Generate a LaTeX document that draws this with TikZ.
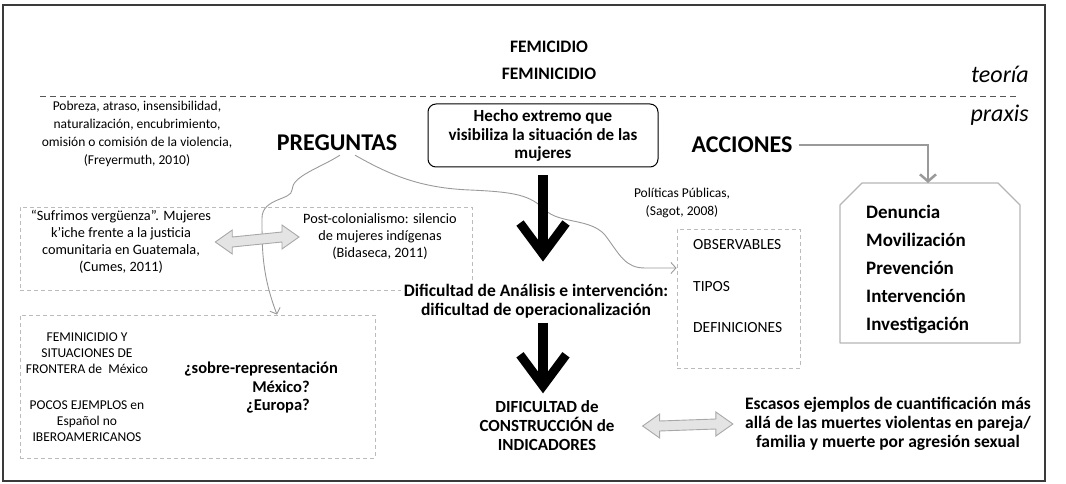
\documentclass[tikz,border=0pt]{standalone}
\usepackage{fontspec}
\setmainfont{Carlito}
\usetikzlibrary{arrows.meta,calc}
\definecolor{framec}{HTML}{3A3A3A}
\definecolor{dashc}{HTML}{BBBBBB}
\definecolor{arrowc}{HTML}{9A9A9A}
\definecolor{blockfill}{HTML}{E4E4E4}
\definecolor{blockline}{HTML}{A8A8A8}
\begin{document}
\begin{tikzpicture}[x=1pt,y=-1pt,
  every node/.style={inner sep=0pt, align=center},
  small/.style={font=\fontsize{13.5}{17.5}\selectfont},
  bsmall/.style={font=\bfseries\fontsize{17.5}{18.5}\selectfont},
  headw/.style={font=\bfseries\fontsize{24}{28}\selectfont},
  titlew/.style={font=\bfseries\fontsize{17.5}{27}\selectfont},
  sidew/.style={font=\itshape\fontsize{24}{28}\selectfont, anchor=east},
  itemw/.style={font=\bfseries\fontsize{19}{28}\selectfont, anchor=west, align=left},
  obsw/.style={font=\fontsize{15.5}{41.5}\selectfont, anchor=west, align=left},
  dbox/.style={draw=dashc, dash pattern=on 4pt off 3pt, line width=0.9pt},
  thinarrow/.style={draw=arrowc, line width=0.9pt, -{Straight Barb[length=5pt,width=11pt]}},
  blockarrow/.style={draw=blockline, fill=blockfill, line width=0.9pt, line join=miter},
  bigshaft/.style={line width=10pt},
  bighead/.style={line width=9pt, line join=miter, miter limit=10},
]
\useasboundingbox (0,0) rectangle (1066,484);
% frame
\draw[framec, line width=2pt] (3,5) rectangle (1045,481);

% theory / praxis
\node[titlew] (fem) at (549,60.5) {FEMICIDIO\\FEMINICIDIO};
\node[sidew] (teo) at (1029,74) {teoría};
\node[sidew] (pra) at (1029,115) {praxis};
\coordinate (dl) at (40,97);
\coordinate (dr) at (1018,97);
\draw[framec!85, line width=1pt, dash pattern=on 6pt off 4pt] (dl) -- (dr);

% top row
\node[draw, rounded corners=8pt, line width=1pt, minimum width=230pt, minimum height=63pt,
      font=\bfseries\fontsize{17}{18.5}\selectfont] (hecho) at (543,135.5) {Hecho extremo que\\visibiliza la situación de las\\mujeres};
\node[headw] (preg) at (337,143) {PREGUNTAS};
\node[headw] (acc) at (742,145) {ACCIONES};
\node[small, font=\fontsize{13.5}{18}\selectfont] (pob) at (137,134) {Pobreza, atraso, insensibilidad,\\naturalización, encubrimiento,\\omisión o comisión de la violencia,\\(Freyermuth, 2010)};

% actions box
\coordinate (a1) at (840,205);
\coordinate (a2) at (862,183);
\coordinate (acttop) at (928,183);
\coordinate (a3) at (998,183);
\coordinate (a4) at (1020,205);
\coordinate (a5) at (1020,343);
\coordinate (a6) at (840,343);
\draw[draw=blockline!85, line width=1.2pt, line join=round] (a1) -- (a2) -- (a3) -- (a4) -- (a5) -- (a6) -- cycle;
\node[itemw] (acts) at (866,269) {Denuncia\\Movilización\\Prevención\\Intervención\\Investigación};
\draw[draw=arrowc, line width=2.5pt, -{Straight Barb[length=7pt,width=16pt]}] ([xshift=6pt]acc.east) -| (acttop);

% políticas + observables
\node[small] (pol) at (682,203) {Políticas Públicas,\\(Sagot, 2008)};
\node[dbox, minimum width=123pt, minimum height=139pt] (obs) at (738.5,298.5) {};
\node[obsw] (obst) at (693,286.5) {OBSERVABLES\\TIPOS\\DEFINICIONES};

% left boxes
\node[dbox, minimum width=452pt, minimum height=83pt] (b1) at (246,248.5) {};
\node[small, font=\fontsize{14.3}{17}\selectfont] (cumes) at (121,242) {“Sufrimos vergüenza”. Mujeres\\k’iche frente a la justicia\\comunitaria en Guatemala,\\(Cumes, 2011)};
\node[small, font=\fontsize{14.3}{17}\selectfont] (bida) at (380,237) {Post-colonialismo: silencio\\de mujeres indígenas\\(Bidaseca, 2011)};

\node[dbox, minimum width=355pt, minimum height=143pt] (b2) at (197.5,386.5) {};
\node[small, font=\fontsize{13.5}{16}\selectfont] (fron) at (87,353) {FEMINICIDIO Y\\SITUACIONES DE\\FRONTERA de\ \ México};
\node[small, font=\fontsize{13.5}{16}\selectfont] (pocos) at (87,421) {POCOS EJEMPLOS en\\Español no\\IBEROAMERICANOS};
\node[font=\bfseries\fontsize{16.5}{19}\selectfont] (sobre) at (261,369) {¿sobre-representación};
\node[font=\bfseries\fontsize{16.5}{19}\selectfont] (mex) at (281,387) {México?};
\node[font=\bfseries\fontsize{16.5}{19}\selectfont] (eur) at (278,406) {¿Europa?};

% center column
\node[bsmall, fill=white, inner sep=3pt] (dif) at (536,301) {Dificultad de Análisis e intervención:\\dificultad de operacionalización};
\node[bsmall, font=\bfseries\fontsize{17}{19}\selectfont] (ind) at (547,426) {DIFICULTAD de\\CONSTRUCCIÓN de\\INDICADORES};
\node[bsmall, font=\bfseries\fontsize{17.5}{19}\selectfont] (esc) at (888,424) {Escasos ejemplos de cuantificación más\\allá de las muertes violentas en pareja/\\familia y muerte por agresión sexual};

% curves from PREGUNTAS
\draw[thinarrow] ([xshift=3pt,yshift=-4pt]preg.south) .. controls (320,168) and (292,176) .. (292,190)
   .. controls (292,200) and (262,198) .. (262,218)
   .. controls (262,250) and (262,275) .. (b2.north -| 277,0);
\draw[thinarrow] ([xshift=18pt,yshift=-4pt]preg.south) .. controls (390,175) and (420,188) .. (470,190)
   .. controls (515,192) and (530,195) .. (545,210)
   .. controls (560,224) and (590,218) .. (605,235)
   .. controls (620,255) and (625,268) .. (645,268) -- (obs.west |- 0,268);

% big black arrows
\coordinate (t1) at ([yshift=27pt]dif.north -| hecho.south);
\draw[bigshaft] ([yshift=-8pt]hecho.south) -- ([yshift=5pt]t1);
\draw[bighead] ([xshift=-23pt,yshift=31pt]t1) -- (t1) -- ([xshift=23pt,yshift=31pt]t1);
\coordinate (t2) at ([yshift=15pt]ind.north -| hecho.south);
\draw[bigshaft] ([yshift=-2pt]dif.south -| hecho.south) -- ([yshift=5pt]t2);
\draw[bighead] ([xshift=-23pt,yshift=31pt]t2) -- (t2) -- ([xshift=23pt,yshift=31pt]t2);

% grey double block arrows
\coordinate (p1) at ([xshift=4pt]cumes.east);
\coordinate (p2) at ([xshift=-4pt]bida.west);
\draw[blockarrow] (p1) -- ++(17,-12) -- ++(0,7) -- ($(p2)+(-17,-5)$) -- ++(0,-7) -- (p2)
   -- ++(-17,12) -- ++(0,-7) -- ($(p1)+(17,5)$) -- ++(0,7) -- cycle;
\coordinate (q1) at ([xshift=28pt]ind.east);
\coordinate (q2) at ([xshift=-12pt]esc.west);
\draw[blockarrow] (q1) -- ++(17,-12) -- ++(0,7) -- ($(q2)+(-17,-5)$) -- ++(0,-7) -- (q2)
   -- ++(-17,12) -- ++(0,-7) -- ($(q1)+(17,5)$) -- ++(0,7) -- cycle;
\end{tikzpicture}
\end{document}
